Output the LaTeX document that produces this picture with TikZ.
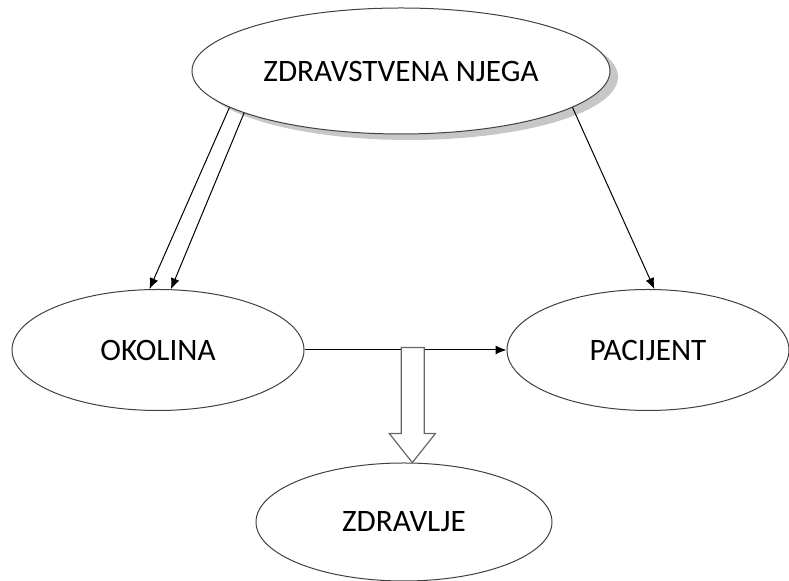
\documentclass[tikz,border=0pt]{standalone}
\usepackage{fontspec}
\setmainfont{Carlito}
\usetikzlibrary{shapes.geometric,shadows,arrows.meta}
\begin{document}
\begin{tikzpicture}[x=0.5pt,y=-0.5pt,>={Latex[length=5.5pt,width=4.5pt]},
    oval/.style={ellipse,draw=black!75,line width=0.5pt,fill=white,inner sep=0pt,font=\fontsize{15.6}{18}\selectfont},
    link/.style={->,line width=0.5pt}]
\useasboundingbox (0,0) rectangle (789,581);
\node[oval,minimum width=209pt,minimum height=63pt,drop shadow={shadow xshift=4pt,shadow yshift=-3pt,fill=black!22,opacity=1}] (zn) at (401,71) {ZDRAVSTVENA NJEGA};
\node[oval,minimum width=146pt,minimum height=60.5pt] (ok) at (158,350) {OKOLINA};
\node[oval,minimum width=141pt,minimum height=60.5pt] (pa) at (648,350) {PACIJENT};
\node[oval,minimum width=148pt,minimum height=59pt] (zd) at (404,522) {ZDRAVLJE};

\draw[link] (zn.192)--(ok.98);
\draw[link] (zn.195)--(ok.78);
\draw[link] (zn.348)--(pa.84);
\draw[link] (ok.east)--(pa.west);
% hollow arrow down to zdravlje
\draw[draw=black!60,line width=0.6pt,fill=white] (zd.82)--++(-23,-29)--++(12,0)--++(0,-86)--++(23,0)--++(0,86)--++(11,0)--cycle;
\end{tikzpicture}
\end{document}
